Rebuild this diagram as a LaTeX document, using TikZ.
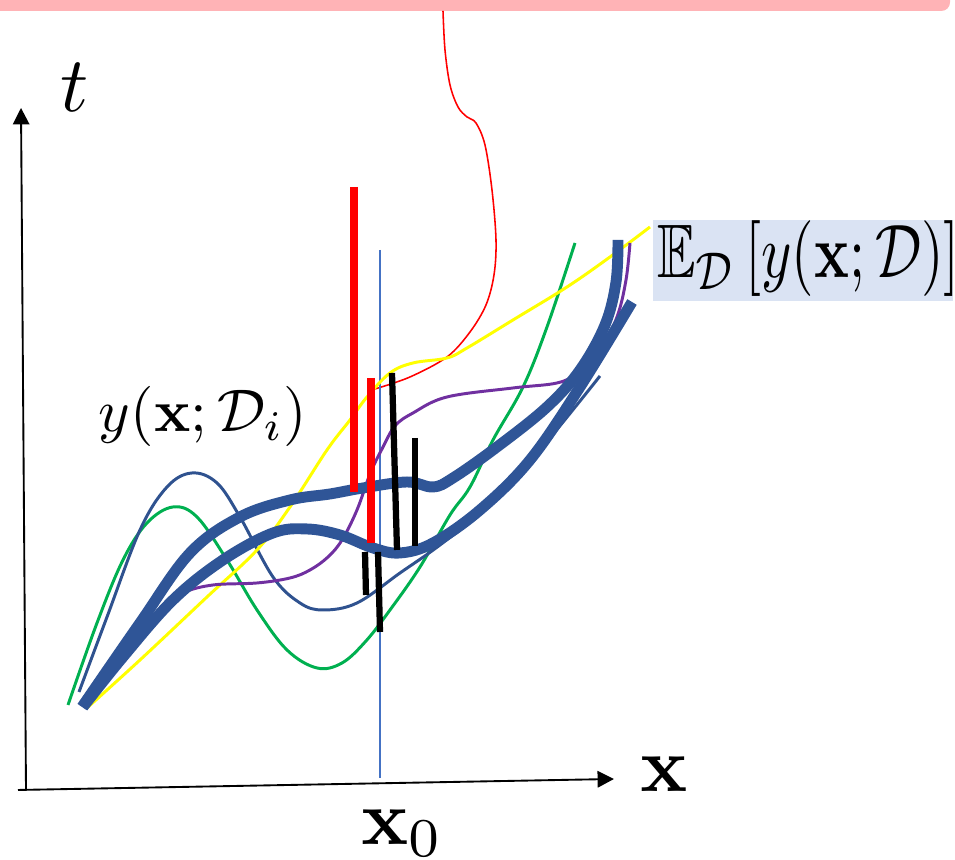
\documentclass[tikz,border=0pt]{standalone}
\usepackage{amsmath,amssymb}
\usepackage{graphicx}
\usetikzlibrary{arrows.meta}
\definecolor{thickblue}{HTML}{2F5597}
\definecolor{thinblue}{HTML}{2F528F}
\definecolor{vlineblue}{HTML}{4472C4}
\definecolor{curvegreen}{HTML}{00B050}
\definecolor{curveyellow}{HTML}{FFFF00}
\definecolor{curvepurple}{HTML}{7030A0}
\definecolor{barpink}{HTML}{FFB3B6}
\definecolor{labelbg}{HTML}{DAE3F3}
\tikzset{
  axisline/.style={line width=0.24pt, black, -{Triangle[length=2.1pt,width=2.1pt]}},
  thickcurve/.style={line width=1.4pt, thickblue},
  thincurve/.style={line width=0.38pt},
  redbar/.style={line width=1.05pt, red},
  blackbar/.style={line width=0.8pt, black},
  lbl/.style={inner sep=0pt, outer sep=0pt},
}
\begin{document}
\begin{tikzpicture}[x=0.128pt,y=-0.128pt]
\useasboundingbox (0,0) rectangle (955,860);
\clip (0,0) rectangle (955,860);
% pink bar at the top
\fill[barpink, rounded corners=1.1pt] (-30,-40) rectangle (950,11);
% red thin callout curve
\draw[red, line width=0.2pt] plot[smooth, tension=0.55] coordinates {(443,11) (445,50) (450,85) (458,107) (467,117) (476,123) (485,145) (492,190) (496,240) (494,275) (486,305) (470,332) (447,357) (410,377) (375,389)};
% axes
\draw[axisline] (26,790) coordinate (ybot) -- (21,108) coordinate (ytop);
\draw[axisline] (18,790) coordinate (xleft) -- (614,779) coordinate (xright);
% vertical line at x0
\draw[vlineblue, line width=0.2pt] (380,250) coordinate (vtop) -- (380,778) coordinate (vbot);
% thin curves
\draw[thincurve, curvegreen] plot[smooth, tension=0.6] coordinates {(68,705) (97,623) (123,560) (147,523) (173,507) (197,517) (227,560) (257,610) (287,650) (317,668) (342,663) (366,641) (390,610) (420,567) (450,515) (470,487) (493,440) (523,387) (547,327) (575,243)};
\draw[thincurve, thinblue] plot[smooth, tension=0.6] coordinates {(79,692) (107,617) (140,530) (167,487) (192,473) (217,483) (240,517) (273,577) (300,603) (323,610) (357,603) (400,573) (440,545) (490,505) (540,450) (600,376)};
\draw[thincurve, curveyellow] plot[smooth, tension=0.6] coordinates {(87,708) (140,660) (207,597) (257,550) (290,507) (327,450) (350,420) (367,397) (390,373) (413,363) (447,358) (467,348) (513,320) (567,287) (610,257) (650,227)};
\draw[thincurve, curvepurple] plot[smooth, tension=0.6] coordinates {(83,707) (110,665) (133,633) (160,610) (183,593) (213,585) (257,583) (290,578) (310,570) (328,557) (342,540) (357,510) (370,474) (382,449) (395,426) (413,413) (447,397) (513,388) (557,383) (577,373) (600,350) (617,317) (626,280) (630,243)};
% thick curves
\draw[thickcurve] plot[smooth, tension=0.6] coordinates {(82,707) (140,623) (190,553) (240,517) (290,500) (330,494) (363,488) (407,482) (433,487) (453,478) (497,447) (547,407) (580,370) (605,325) (616,282) (618,240)};
\draw[thickcurve] plot[smooth, tension=0.6] coordinates {(83,707) (123,657) (173,600) (223,560) (273,533) (307,529) (340,535) (373,548) (400,553) (433,543) (480,510) (530,460) (580,387) (632,302)};
% red bars
\draw[redbar] (354,187) coordinate (ra) -- (354,492) coordinate (rb);
\draw[redbar] (371,378) coordinate (rc) -- (371,543) coordinate (rd);
% black bars
\draw[blackbar] (392,373) coordinate (ba) -- (397,550) coordinate (bb);
\draw[blackbar] (415,438) coordinate (bc) -- (415,546) coordinate (bd);
\draw[blackbar] (365,552) coordinate (be) -- (366,595) coordinate (bf);
\draw[blackbar] (378,552) coordinate (bg) -- (380,632) coordinate (bh);
% labels
\node[lbl, anchor=base west] (tlab) at (61,112) {$t$};
\node[lbl, anchor=base] (xlab) at (664,792) {$\mathbf{x}$};
\node[lbl, anchor=base west] (x0lab) at (361,845) {$\mathbf{x}_0$};
\node[lbl, anchor=base west, scale=0.77] (ylab) at (99,432) {$y(\mathbf{x};\mathcal{D}_i)$};
\fill[labelbg] (653,220) rectangle (953,301);
\node[lbl, anchor=base west] (elab) at (657,278) {\scalebox{0.74}[0.97]{$\mathbb{E}_{\mathcal{D}}\left[y(\mathbf{x};\mathcal{D})\right]$}};
\end{tikzpicture}
\end{document}
